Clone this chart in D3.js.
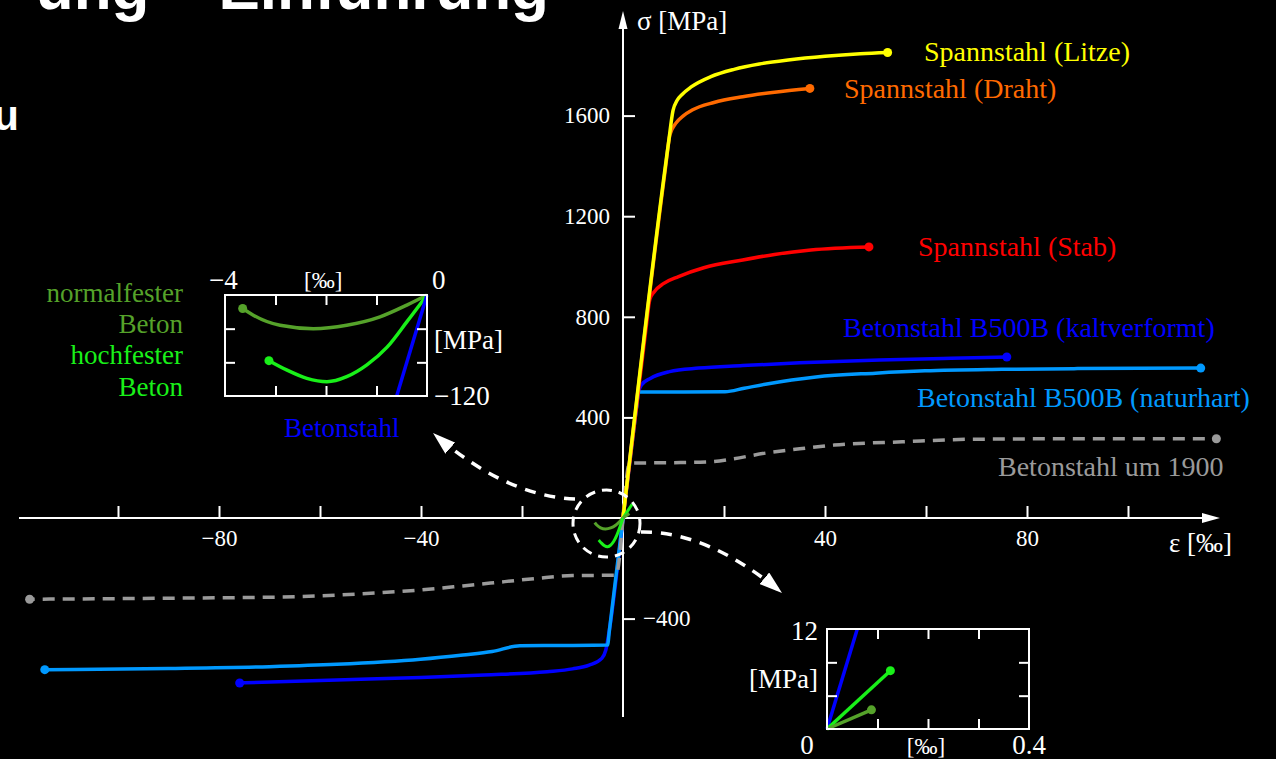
<!DOCTYPE html>
<html>
<head>
<meta charset="utf-8">
<script src="https://cdn.jsdelivr.net/npm/d3@7"></script>
<style>
  html, body { margin: 0; background: #000; overflow: hidden; }
  text { font-family: "Liberation Serif", "Times New Roman", serif; }
</style>
</head>
<body>
<svg id="chart" width="1276" height="759"></svg>
<script>
// strain in permille, stress in MPa
const litze      = [[0,0],[9,1490],[9.9,1620],[10.7,1660],[11.7,1684],[13.5,1714],[17.4,1755],[22,1784],[27,1805],[32.7,1821],[40,1836],[47,1846],[52.4,1851]];
const draht      = [[0,0],[8.4,1390],[9.3,1525],[10.4,1568],[12,1600],[13.7,1622],[18,1652],[23.7,1675],[30,1693],[37,1708]];
const stab       = [[0,0],[4.6,760],[5.3,868],[6.2,900],[8,932],[11,960],[16,995],[23.7,1026],[30,1048],[37.2,1066],[48.7,1078]];
const kaltT      = [[0,0],[2.6,430],[3.1,500],[3.7,530],[5.4,555],[9.2,582],[15,596],[23.7,606],[35,617],[50.8,628],[65,635],[76,640]];
const kaltC      = [[0,0],[-2.7,-445],[-3.4,-525],[-4.2,-558],[-6.7,-585],[-10,-600],[-15,-611],[-27.5,-624],[-40,-634],[-56.7,-644],[-75.9,-656]];
const naturT     = [[0,0],[2.7,445],[3.04,501],[12,501],[20.2,502],[24,516],[28.2,532],[38.2,561],[50,576],[59.8,585],[75,591],[90,594],[114.4,596]];
const naturC     = [[0,0],[-2.7,-448],[-3.06,-505],[-12,-507],[-20.4,-508],[-25.9,-531],[-31.7,-545],[-40.1,-562],[-56.7,-582],[-70,-591],[-90,-598],[-114.5,-603]];
const um1900T    = [[0,0],[1.3,218],[5,219],[10,220],[17.4,224],[22,236],[28.2,258],[35,275],[41.8,290],[55.3,303],[68.9,313],[90,315],[117.5,315]];
const um1900C    = [[0,0],[-1.37,-227],[-5,-228],[-10,-229],[-17,-240],[-23.4,-253],[-31.7,-270],[-40,-286],[-52.5,-302],[-65,-313],[-90,-319],[-117.5,-323]];

// concrete, compression (inset top left)
const normalC    = [[0,0],[-0.4,-12],[-0.93,-26],[-1.59,-36],[-2.25,-40],[-2.91,-36],[-3.44,-24],[-3.65,-16]];
const hochC      = [[0,0],[-0.4,-32],[-0.79,-62],[-1.19,-83],[-1.59,-97],[-1.98,-103],[-2.38,-99],[-2.78,-89],[-3.13,-78]];
const steelC     = [[0,0],[-0.6,-120]];
// concrete, tension (inset bottom right)
const normalT    = [[0,0],[0.088,2.3]];
const hochT      = [[0,0],[0.1255,7]];
const steelT     = [[0,0],[0.06,12]];

const epsTicks   = [-100,-80,-60,-40,-20,20,40,60,80,100];
const epsLabels  = [-80,-40,40,80];
const sigTicks   = [400,800,1200,1600];
const sigTicksNeg = [-400];
const tlEpsTicks = [-3,-2,-1];
const tlSigTicks = [-80,-40];
const brEpsTicks = [0.1,0.2,0.3];
const brSigTicks = [4,8];

const svg = d3.select("#chart");
svg.append("rect").attr("width", 1276).attr("height", 759).attr("fill", "#000");

// slide remnants
svg.append("text").attr("x", 549).attr("y", 9).attr("text-anchor", "end")
  .style("font-family", "'Liberation Sans', Arial, sans-serif").style("font-weight", "bold")
  .attr("font-size", 62).attr("fill", "#fff").text("ung – Einführung");
svg.append("text").attr("x", 19).attr("y", 130).attr("text-anchor", "end")
  .style("font-family", "'Liberation Sans', Arial, sans-serif").style("font-weight", "bold")
  .attr("font-size", 42).attr("fill", "#fff").text("u");

const x = d3.scaleLinear().domain([-100, 100]).range([118, 1128]);
const y = d3.scaleLinear().domain([-400, 1600]).range([618.6, 115.6]);
const fmt = d3.format("d");

const C = {
  yellow: "#ffff00", orange: "#ff6a00", red: "#ff0000", blue: "#0000ff",
  lblue: "#0099ff", gray: "#9a9a9a", olive: "#55a22a", green: "#19f019"
};

// axes
const xAxis = svg.append("g").attr("transform", `translate(0,${y(0)})`)
  .call(d3.axisBottom(x).tickValues(epsTicks).tickSizeInner(-12).tickSizeOuter(0).tickPadding(12)
    .tickFormat(d => epsLabels.includes(d) ? fmt(d) : ""));
const yAxis = svg.append("g").attr("transform", `translate(${x(0)},0)`)
  .call(d3.axisLeft(y).tickValues(sigTicks).tickSizeInner(-12).tickSizeOuter(0).tickPadding(13).tickFormat(fmt));
const yAxisNeg = svg.append("g").attr("transform", `translate(${x(0)},0)`)
  .call(d3.axisRight(y).tickValues(sigTicksNeg).tickSizeInner(12).tickSizeOuter(0).tickPadding(8).tickFormat(fmt));
[xAxis, yAxis, yAxisNeg].forEach(g => {
  g.select(".domain").remove();
  g.attr("font-family", "'Liberation Serif', serif").attr("font-size", 23).attr("color", "#fff");
  g.selectAll("line").attr("stroke-width", 2);
});

svg.append("line").attr("x1", 19).attr("x2", 1206).attr("y1", y(0)).attr("y2", y(0))
  .attr("stroke", "#fff").attr("stroke-width", 2);
svg.append("path").attr("d", `M1220,${y(0)} L1202,${y(0) - 5} L1202,${y(0) + 5} Z`).attr("fill", "#fff");
svg.append("line").attr("x1", x(0)).attr("x2", x(0)).attr("y1", 717).attr("y2", 26)
  .attr("stroke", "#fff").attr("stroke-width", 2);
svg.append("path").attr("d", `M${x(0)},11 L${x(0) - 4.5},29 L${x(0) + 4.5},29 Z`).attr("fill", "#fff");

svg.append("text").attr("x", 637).attr("y", 30).attr("font-size", 27).attr("fill", "#fff").text("σ [MPa]");
svg.append("text").attr("x", 1232).attr("y", 552).attr("text-anchor", "end").attr("font-size", 27).attr("fill", "#fff").text("ε [‰]");

// curves
const line = d3.line().x(d => x(d[0])).y(d => y(d[1])).curve(d3.curveMonotoneX);
const curves = [
  { data: kaltT, color: C.blue }, { data: kaltC, color: C.blue },
  { data: naturT, color: C.lblue }, { data: naturC, color: C.lblue },
  { data: um1900T, color: C.gray, dash: "12,8" }, { data: um1900C, color: C.gray, dash: "12,8" },
  { data: stab, color: C.red }, { data: draht, color: C.orange }, { data: litze, color: C.yellow }
];
curves.forEach(c => {
  svg.append("path").attr("d", line(c.data)).attr("fill", "none")
    .attr("stroke", c.color).attr("stroke-width", 3.5)
    .attr("stroke-dasharray", c.dash || null);
});
curves.forEach(c => {
  const last = c.data[c.data.length - 1];
  svg.append("circle").attr("cx", x(last[0])).attr("cy", y(last[1])).attr("r", 4.5).attr("fill", c.color);
});

const labels = [
  { t: "Spannstahl (Litze)", x: 924, y: 61, c: C.yellow },
  { t: "Spannstahl (Draht)", x: 844, y: 98, c: C.orange },
  { t: "Spannstahl (Stab)", x: 918, y: 256, c: C.red },
  { t: "Betonstahl B500B (kaltverformt)", x: 843, y: 337, c: C.blue },
  { t: "Betonstahl B500B (naturhart)", x: 917, y: 407, c: C.lblue },
  { t: "Betonstahl um 1900", x: 998, y: 476, c: C.gray }
];
labels.forEach(l => svg.append("text").attr("x", l.x).attr("y", l.y)
  .attr("font-size", 28).attr("fill", l.c).text(l.t));

// magnified concrete near the origin
const cx = d3.scaleLinear().domain([-4, 0]).range([x(0) - 31, x(0)]);
const cy = d3.scaleLinear().domain([-120, 0]).range([y(0) + 34, y(0)]);
const cxT = d3.scaleLinear().domain([0, 0.4]).range([x(0), x(0) + 29]);
const cyT = d3.scaleLinear().domain([0, 12]).range([y(0), y(0) - 23.5]);
const cLine = d3.line().x(d => cx(d[0])).y(d => cy(d[1])).curve(d3.curveBasis);
const cLineT = d3.line().x(d => cxT(d[0])).y(d => cyT(d[1]));
[[normalC, C.olive], [hochC, C.green]].forEach(([d, col]) =>
  svg.append("path").attr("d", cLine(d)).attr("fill", "none").attr("stroke", col).attr("stroke-width", 3));
[[hochT, C.green], [normalT, C.olive]].forEach(([d, col]) =>
  svg.append("path").attr("d", cLineT(d)).attr("fill", "none").attr("stroke", col).attr("stroke-width", 3));

svg.append("circle").attr("cx", 606.5).attr("cy", 523.5).attr("r", 33.5).attr("fill", "none")
  .attr("stroke", "#fff").attr("stroke-width", 3).attr("stroke-dasharray", "10,7");

// pointer arrows
const defs = svg.append("defs");
defs.append("marker").attr("id", "head").attr("viewBox", "-23 -7.5 23 15")
  .attr("refX", 0).attr("refY", 0).attr("markerWidth", 23).attr("markerHeight", 15)
  .attr("markerUnits", "userSpaceOnUse").attr("orient", "auto")
  .append("path").attr("d", "M0,0 L-23,-7.5 L-23,7.5 Z").attr("fill", "#fff");
svg.append("path").attr("d", "M575,499 Q505,496 433,433").attr("fill", "none")
  .attr("stroke", "#fff").attr("stroke-width", 3.5).attr("stroke-dasharray", "11,9")
  .attr("marker-end", "url(#head)");
svg.append("path").attr("d", "M641,532 Q708,531 782,593").attr("fill", "none")
  .attr("stroke", "#fff").attr("stroke-width", 3.5).attr("stroke-dasharray", "11,9")
  .attr("marker-end", "url(#head)");

// inset helper
function inset(xs, ys, xt, yt) {
  const g = svg.append("g");
  const boxes = [
    d3.axisTop(xs).tickValues(xt), d3.axisBottom(xs).tickValues(xt),
    d3.axisLeft(ys).tickValues(yt), d3.axisRight(ys).tickValues(yt)
  ];
  const pos = [
    `translate(0,${ys.range()[1]})`, `translate(0,${ys.range()[0]})`,
    `translate(${xs.range()[0]},0)`, `translate(${xs.range()[1]},0)`
  ];
  boxes.forEach((a, i) => {
    const ag = g.append("g").attr("transform", pos[i])
      .call(a.tickSizeInner(-10).tickSizeOuter(0).tickFormat(""));
    ag.select(".domain").remove();
    ag.attr("color", "#fff").selectAll("line").attr("stroke-width", 2);
  });
  g.append("rect").attr("x", xs.range()[0]).attr("y", ys.range()[1])
    .attr("width", xs.range()[1] - xs.range()[0]).attr("height", ys.range()[0] - ys.range()[1])
    .attr("fill", "none").attr("stroke", "#fff").attr("stroke-width", 2);
  return g;
}

// top-left inset: compression
const tx = d3.scaleLinear().domain([-4, 0]).range([225, 427]);
const ty = d3.scaleLinear().domain([-120, 0]).range([396, 295]);
const tlLine = d3.line().x(d => tx(d[0])).y(d => ty(d[1])).curve(d3.curveMonotoneX);
[[normalC, C.olive], [hochC, C.green], [steelC, C.blue]].forEach(([d, col]) => {
  svg.append("path").attr("d", tlLine(d)).attr("fill", "none").attr("stroke", col).attr("stroke-width", 3.5);
});
[[normalC, C.olive], [hochC, C.green]].forEach(([d, col]) => {
  const last = d[d.length - 1];
  svg.append("circle").attr("cx", tx(last[0])).attr("cy", ty(last[1])).attr("r", 4.5).attr("fill", col);
});
inset(tx, ty, tlEpsTicks, tlSigTicks);
svg.append("text").attr("x", 209).attr("y", 289).attr("font-size", 27).attr("fill", "#fff").text("−4");
svg.append("text").attr("x", 304).attr("y", 288).attr("font-size", 23).attr("fill", "#fff").text("[‰]");
svg.append("text").attr("x", 432).attr("y", 289).attr("font-size", 27).attr("fill", "#fff").text("0");
svg.append("text").attr("x", 434).attr("y", 349).attr("font-size", 27).attr("fill", "#fff").text("[MPa]");
svg.append("text").attr("x", 434).attr("y", 405).attr("font-size", 27).attr("fill", "#fff").text("−120");
[["normalfester", 302, C.olive], ["Beton", 333, C.olive], ["hochfester", 364, C.green], ["Beton", 396, C.green]]
  .forEach(([t, yy, col]) => svg.append("text").attr("x", 183).attr("y", yy).attr("text-anchor", "end")
    .attr("font-size", 27).attr("fill", col).text(t));
svg.append("text").attr("x", 284).attr("y", 437).attr("font-size", 27).attr("fill", C.blue).text("Betonstahl");

// bottom-right inset: tension
const bx = d3.scaleLinear().domain([0, 0.4]).range([827, 1029]);
const by = d3.scaleLinear().domain([0, 12]).range([729, 629]);
const brLine = d3.line().x(d => bx(d[0])).y(d => by(d[1]));
[[steelT, C.blue], [hochT, C.green], [normalT, C.olive]].forEach(([d, col]) => {
  svg.append("path").attr("d", brLine(d)).attr("fill", "none").attr("stroke", col).attr("stroke-width", 3.5);
});
[[hochT, C.green], [normalT, C.olive]].forEach(([d, col]) => {
  const last = d[d.length - 1];
  svg.append("circle").attr("cx", bx(last[0])).attr("cy", by(last[1])).attr("r", 4.5).attr("fill", col);
});
inset(bx, by, brEpsTicks, brSigTicks);
svg.append("text").attr("x", 818).attr("y", 640).attr("text-anchor", "end").attr("font-size", 27).attr("fill", "#fff").text("12");
svg.append("text").attr("x", 818).attr("y", 688).attr("text-anchor", "end").attr("font-size", 27).attr("fill", "#fff").text("[MPa]");
svg.append("text").attr("x", 807).attr("y", 754).attr("text-anchor", "middle").attr("font-size", 27).attr("fill", "#fff").text("0");
svg.append("text").attr("x", 926).attr("y", 754).attr("text-anchor", "middle").attr("font-size", 23).attr("fill", "#fff").text("[‰]");
svg.append("text").attr("x", 1029).attr("y", 754).attr("text-anchor", "middle").attr("font-size", 27).attr("fill", "#fff").text("0.4");
</script>
</body>
</html>
